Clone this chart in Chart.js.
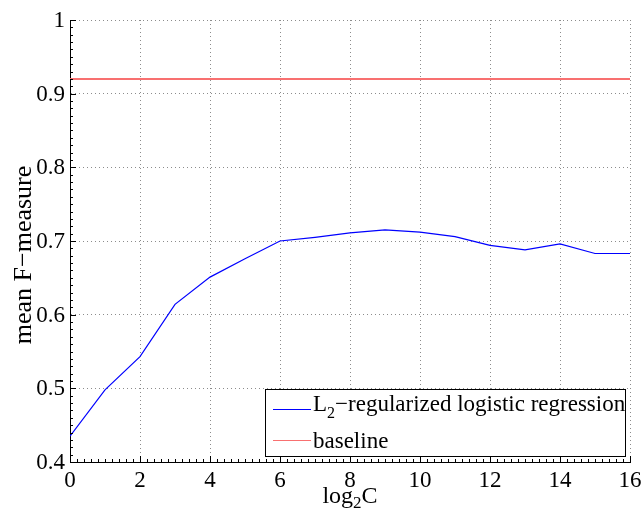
<!DOCTYPE html>
<html>
<head>
<meta charset="utf-8">
<script src="https://cdn.jsdelivr.net/npm/chart.js@4.4.1/dist/chart.umd.min.js"></script>
<style>
  html, body { margin: 0; padding: 0; background: #fff; }
</style>
</head>
<body>
<canvas id="fChart" width="644" height="513"></canvas>
<script>
// -- DATA
const log2C = [0, 1, 2, 3, 4, 5, 6, 7, 8, 9, 10, 11, 12, 13, 14, 15, 16];
const logregF = [0.435, 0.498, 0.543, 0.614, 0.651, 0.676, 0.700, 0.705, 0.711, 0.715, 0.712, 0.706, 0.694, 0.688, 0.696, 0.683, 0.683];
const baselineX = [0, 16];
const baselineF = [0.92, 0.92];
const xTicks = [0, 2, 4, 6, 8, 10, 12, 14, 16];
const xTickLabels = ["0", "2", "4", "6", "8", "10", "12", "14", "16"];
const yTicks = [0.4, 0.5, 0.6, 0.7, 0.8, 0.9, 1];
const yTickLabels = ["0.4", "0.5", "0.6", "0.7", "0.8", "0.9", "1"];
const seriesNames = ["regularized logistic regression", "baseline"];

const FONT = "'Liberation Serif', 'Times New Roman', serif";
const BLUE = "#0000ff";
const RED = "rgb(248,112,112)";
const GRID = "rgba(0,0,0,0.45)";

// -- MATLAB-ish axes: inward ticks, tick labels, axis titles with subscripts, boxed legend
const matlabLook = {
    id: "matlabLook",
    afterDraw(chart) {
        const ctx = chart.ctx;
        const a = chart.chartArea;
        const x = chart.scales.x;
        const y = chart.scales.y;
        ctx.save();

        // inward ticks (major + minor)
        ctx.strokeStyle = "#000";
        ctx.lineWidth = 1;
        ctx.beginPath();
        for (let i = 0; i <= 80; i++) {
            const px = Math.round(x.getPixelForValue(i * 0.2)) + 0.5;
            const len = i % 10 === 0 ? 6 : 3;
            ctx.moveTo(px, a.bottom);
            ctx.lineTo(px, a.bottom - len);
        }
        for (let i = 0; i <= 60; i++) {
            const py = Math.round(y.getPixelForValue(0.4 + i * 0.01)) + 0.5;
            const len = i % 10 === 0 ? 6 : 3;
            ctx.moveTo(a.left, py);
            ctx.lineTo(a.left + len, py);
        }
        ctx.stroke();

        // tick labels
        ctx.fillStyle = "#000";
        ctx.font = "23px " + FONT;
        ctx.textAlign = "center";
        ctx.textBaseline = "alphabetic";
        xTicks.forEach((v, i) => {
            ctx.fillText(xTickLabels[i], x.getPixelForValue(v), a.bottom + 25);
        });
        ctx.textAlign = "right";
        ctx.textBaseline = "middle";
        yTicks.forEach((v, i) => {
            ctx.fillText(yTickLabels[i], a.left - 5, y.getPixelForValue(v) + 1);
        });

        ctx.textBaseline = "alphabetic";

        // x title: log_2 C
        const cx = (a.left + a.right) / 2;
        ctx.font = "24px " + FONT;
        const wLog = ctx.measureText("log").width;
        const wC = ctx.measureText("C").width;
        ctx.font = "17px " + FONT;
        const w2 = ctx.measureText("2").width;
        let tx = cx - (wLog + w2 + wC) / 2;
        const base = 503;
        ctx.font = "24px " + FONT;
        ctx.textAlign = "left";
        ctx.fillText("log", tx, base);
        ctx.font = "17px " + FONT;
        ctx.fillText("2", tx + wLog, base + 5);
        ctx.font = "24px " + FONT;
        ctx.fillText("C", tx + wLog + w2, base);

        // y title
        ctx.save();
        ctx.translate(24, 255);
        ctx.rotate(-Math.PI / 2);
        ctx.textAlign = "center";
        ctx.textBaseline = "middle";
        ctx.font = "26px " + FONT;
        ctx.fillText("mean F\u2212measure", 0, 0);
        ctx.restore();

        // legend box
        const bx = 265, by = 389, bw = 360, bh = 67;
        ctx.fillStyle = "#fff";
        ctx.fillRect(bx, by, bw, bh);
        ctx.strokeStyle = "#000";
        ctx.lineWidth = 1;
        ctx.strokeRect(bx + 0.5, by + 0.5, bw, bh);

        const rows = [
            { color: BLUE, yc: by + 20 },
            { color: RED, yc: by + 51 }
        ];
        rows.forEach(r => {
            ctx.strokeStyle = r.color;
            ctx.lineWidth = 1.2;
            ctx.beginPath();
            ctx.moveTo(bx + 8, r.yc + 0.5);
            ctx.lineTo(bx + 46, r.yc + 0.5);
            ctx.stroke();
        });
        ctx.fillStyle = "#000";
        ctx.textAlign = "left";
        ctx.font = "23px " + FONT;
        let lx = bx + 48;
        ctx.fillText("L", lx, rows[0].yc + 2);
        lx += ctx.measureText("L").width;
        ctx.font = "16px " + FONT;
        ctx.fillText("2", lx, rows[0].yc + 9);
        lx += ctx.measureText("2").width;
        ctx.font = "23px " + FONT;
        ctx.fillText("\u2212" + seriesNames[0], lx, rows[0].yc + 2);
        ctx.fillText(seriesNames[1], bx + 48, rows[1].yc + 8);

        ctx.restore();
    }
};

const ctx = document.getElementById("fChart").getContext("2d");
const chart = new Chart(ctx, {
    type: "line",
    data: {
        datasets: [
            {
                label: seriesNames[0],
                data: log2C.map((v, i) => ({ x: v, y: logregF[i] })),
                borderColor: BLUE,
                borderWidth: 1.2,
                pointRadius: 0,
                tension: 0,
                fill: false
            },
            {
                label: seriesNames[1],
                data: baselineX.map((v, i) => ({ x: v, y: baselineF[i] })),
                borderColor: RED,
                borderWidth: 2,
                pointRadius: 0,
                fill: false
            }
        ]
    },
    options: {
        responsive: false,
        animation: false,
        layout: { padding: { top: 20, right: 14, left: 0, bottom: 0 } },
        plugins: {
            legend: { display: false },
            tooltip: { enabled: false }
        },
        scales: {
            x: {
                type: "linear",
                min: 0,
                max: 16,
                afterBuildTicks: scale => { scale.ticks = xTicks.map(v => ({ value: v })); },
                afterFit: scale => { scale.height = 51; },
                ticks: { display: false },
                grid: {
                    color: GRID,
                    lineWidth: 1,
                    drawTicks: false
                },
                border: { display: true, color: "#000", width: 1, dash: [1, 3] }
            },
            y: {
                type: "linear",
                min: 0.4,
                max: 1,
                afterBuildTicks: scale => { scale.ticks = yTicks.map(v => ({ value: v })); },
                afterFit: scale => { scale.width = 70; },
                ticks: { display: false },
                grid: {
                    color: GRID,
                    lineWidth: 1,
                    drawTicks: false
                },
                border: { display: true, color: "#000", width: 1, dash: [1, 3] }
            }
        }
    },
    plugins: [matlabLook]
});
</script>
</body>
</html>
